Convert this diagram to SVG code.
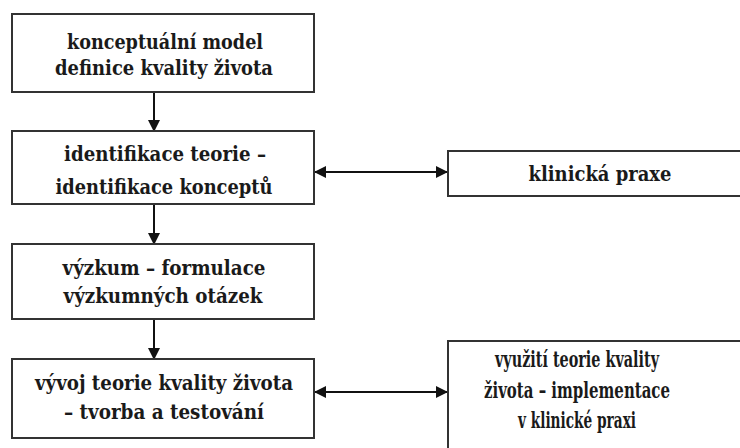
<svg xmlns="http://www.w3.org/2000/svg" width="740" height="448" viewBox="0 0 740 448">
<defs>
<style>
.box{fill:#fff;stroke:#333;stroke-width:2}
.t{font-family:"DejaVu Serif",serif;font-weight:bold;font-size:21px;fill:#1a1a1a;text-anchor:middle}
.t6{font-size:22px}
.c{stroke:#111;stroke-width:2;fill:none}
</style>
<marker id="ah" markerUnits="userSpaceOnUse" markerWidth="12" markerHeight="12" refX="11" refY="6" orient="auto-start-reverse" viewBox="0 0 12 12">
<path d="M0,0 L12,6 L0,12 z" fill="#111"/>
</marker>
</defs>
<rect width="740" height="448" fill="#fff"/>
<g id="connectors">
<line class="c" x1="154" y1="92" x2="154" y2="131" marker-end="url(#ah)"/>
<line class="c" x1="154" y1="204" x2="154" y2="244" marker-end="url(#ah)"/>
<line class="c" x1="154" y1="319" x2="154" y2="359" marker-end="url(#ah)"/>
<line class="c" x1="315" y1="172" x2="447" y2="172" marker-start="url(#ah)" marker-end="url(#ah)"/>
<line class="c" x1="315" y1="392" x2="447" y2="392" marker-start="url(#ah)" marker-end="url(#ah)"/>
</g>
<g id="n1">
<rect class="box" x="12" y="14" width="302" height="78"/>
<text class="t" x="165" y="49" textLength="196" lengthAdjust="spacingAndGlyphs">konceptuální model</text>
<text class="t" x="164" y="75" textLength="218" lengthAdjust="spacingAndGlyphs">definice kvality  života</text>
</g>
<g id="n2">
<rect class="box" x="12" y="131" width="302" height="73"/>
<text class="t" x="165" y="161" textLength="202" lengthAdjust="spacingAndGlyphs">identifikace teorie –</text>
<text class="t" x="164" y="194" textLength="217" lengthAdjust="spacingAndGlyphs">identifikace konceptů</text>
</g>
<g id="n3">
<rect class="box" x="448" y="151" width="300" height="45"/>
<text class="t" x="600" y="181" textLength="143" lengthAdjust="spacingAndGlyphs">klinická praxe</text>
</g>
<g id="n4">
<rect class="box" x="12" y="244" width="302" height="75"/>
<text class="t" x="164" y="275" textLength="203" lengthAdjust="spacingAndGlyphs">výzkum – formulace</text>
<text class="t" x="163" y="303" textLength="199" lengthAdjust="spacingAndGlyphs">výzkumných otázek</text>
</g>
<g id="n5">
<rect class="box" x="12" y="359" width="302" height="79"/>
<text class="t" x="164" y="390" textLength="258" lengthAdjust="spacingAndGlyphs">vývoj teorie kvality života</text>
<text class="t" x="164" y="419" textLength="200" lengthAdjust="spacingAndGlyphs">– tvorba a testování</text>
</g>
<g id="n6">
<rect class="box" x="448" y="341" width="300" height="120"/>
<text class="t t6" x="577" y="367" textLength="164" lengthAdjust="spacingAndGlyphs">využití teorie kvality</text>
<text class="t t6" x="577" y="398" textLength="186" lengthAdjust="spacingAndGlyphs">života – implementace</text>
<text class="t t6" x="577" y="428" textLength="118" lengthAdjust="spacingAndGlyphs">v klinické praxi</text>
</g>
</svg>
